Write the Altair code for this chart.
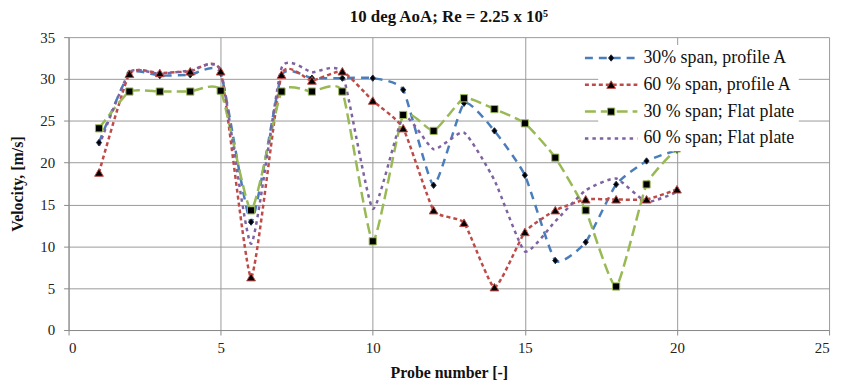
import altair as alt
import pandas as pd

probe = list(range(1, 21))
series_names = [
    "30% span, profile A",
    "60 % span, profile A",
    "30 % span; Flat plate",
    "60 % span; Flat plate",
]
marker_keys = ["m1", "m2", "m3", "m4"]

blue = [22.4, 30.7, 30.4, 30.5, 30.7, 12.9, 30.4, 30.1, 30.1, 30.1,
        28.7, 17.3, 27.1, 23.8, 18.5, 8.3, 10.5, 17.4, 20.2, 21.5]
red = [18.8, 30.6, 30.7, 30.9, 30.9, 6.3, 30.5, 29.8, 30.9, 27.4,
       24.1, 14.3, 12.8, 5.1, 11.7, 14.3, 15.6, 15.6, 15.6, 16.8]
green = [24.1, 28.5, 28.5, 28.5, 28.6, 14.3, 28.5, 28.5, 28.5, 10.6,
         25.7, 23.8, 27.7, 26.4, 24.7, 20.6, 14.3, 5.2, 17.4, 21.7]
purple = [22.0, 30.8, 30.6, 31.0, 31.0, 10.3, 31.3, 30.8, 30.7, 14.5,
          25.5, 21.6, 23.6, 17.9, 9.4, 13.0, 16.7, 18.1, 15.3, 16.5]

x_ticks = [0, 5, 10, 15, 20, 25]
y_ticks = [0, 5, 10, 15, 20, 25, 30, 35]

rows = []
for name, key, vals in zip(series_names, marker_keys, [blue, red, green, purple]):
    for p, v in zip(probe, vals):
        rows.append({"probe": p, "velocity": v, "series": name, "marker": key})
df = pd.DataFrame(rows)

line_colors = ["#4A7EBB", "#BE4B48", "#98B954", "#7F62A1"]
dashes = [[8, 6], [4, 3], [11, 5], [3.5, 4]]
widths = [2.5, 2.5, 2.5, 3.5]

shapes = [
    "M0,-0.8L0.65,0L0,0.8L-0.65,0Z",
    "M0,-1L1.1,0.9L-1.1,0.9Z",
    "M-0.9,-0.9H0.9V0.9H-0.9Z",
    "M0,0",
]
outline = ["#1a2a44", "#BE4B48", "#98B954", "#ffffff"]

FONT = "Liberation Serif"
LEG_X = 533.5
LEG_Y = 8

x = alt.X("probe:Q", scale=alt.Scale(domain=[0, 25], nice=False),
          axis=alt.Axis(values=x_ticks, title="Probe number [-]"))
y = alt.Y("velocity:Q", scale=alt.Scale(domain=[0, 35], nice=False),
          axis=alt.Axis(values=y_ticks, title="Velocity, [m/s]"))

line_legend = alt.Legend(
    title=None, orient="none", legendX=LEG_X, legendY=LEG_Y,
    symbolType="M-6.6,0H6.6", symbolSize=64, symbolStrokeWidth=2.5,
    fillColor="white", padding=4, rowPadding=9, labelOffset=23.5,
    labelFont=FONT, labelFontSize=18, labelColor="#111", zindex=1,
)
marker_legend = alt.Legend(
    title=None, orient="none", legendX=LEG_X, legendY=LEG_Y,
    symbolSize=64, symbolFillColor="black", symbolStrokeWidth=1,
    padding=4, rowPadding=9, labelOffset=23.5, labelExpr="''",
    labelFont=FONT, labelFontSize=18, zindex=2,
)

lines = alt.Chart(df).mark_line(interpolate="cardinal", tension=0.5).encode(
    x=x, y=y,
    color=alt.Color("series:N", scale=alt.Scale(domain=series_names, range=line_colors),
                    legend=line_legend),
    strokeDash=alt.StrokeDash("series:N", scale=alt.Scale(domain=series_names, range=dashes),
                              legend=line_legend),
    strokeWidth=alt.StrokeWidth("series:N", scale=alt.Scale(domain=series_names, range=widths),
                                legend=line_legend),
)

points = alt.Chart(df[df["marker"] != "m4"]).mark_point(
    filled=True, fill="black", strokeWidth=1, opacity=1, size=64
).encode(
    x=x, y=y,
    shape=alt.Shape("marker:N", scale=alt.Scale(domain=marker_keys, range=shapes),
                    legend=marker_legend),
    stroke=alt.Stroke("marker:N", scale=alt.Scale(domain=marker_keys, range=outline),
                      legend=marker_legend),
)

chart = alt.layer(lines, points).properties(
    width=766, height=295,
    autosize=alt.AutoSizeParams(type="none"),
    padding={"left": 61, "top": 28, "right": 10, "bottom": 51},
    title=alt.Title("10 deg AoA; Re = 2.25 x 10\u2075", font=FONT, fontSize=17,
                    fontWeight="bold", color="#111", anchor="middle", frame="group", offset=4),
).configure_view(stroke=None).configure_axis(
    grid=True, gridColor="#9a9a9a", gridWidth=1,
    domainColor="#8a8a8a", domainWidth=1,
    tickColor="#8a8a8a", tickSize=5,
    labelFont=FONT, labelFontSize=15, labelColor="#222",
    titleFont=FONT, titleFontSize=16, titleFontWeight="bold", titleColor="#111",
).configure_axisX(labelPadding=6, titlePadding=9).configure_axisY(
    labelPadding=9, titlePadding=14
)

chart.save("out.html", embed_options={"renderer": "svg", "actions": False})
